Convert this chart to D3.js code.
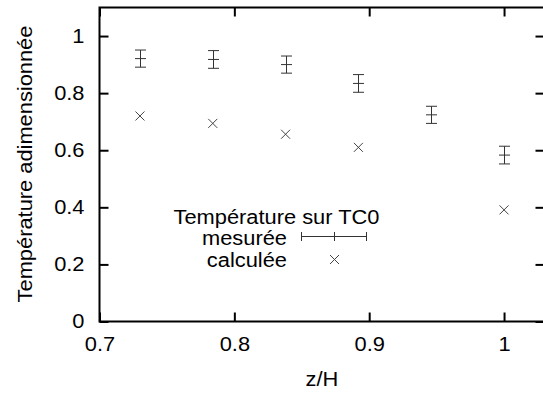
<!DOCTYPE html>
<html><head><meta charset="utf-8">
<script src="https://cdn.jsdelivr.net/npm/d3@7"></script>
<style>body{margin:0;background:#fff}svg{display:block;font-family:"Liberation Sans",Arial,sans-serif}</style>
</head><body><svg id="c" width="543" height="394"></svg>
<script>
const zMeasured = [0.73, 0.784, 0.838, 0.892, 0.946, 1.0];
const measured = [0.921, 0.918, 0.900, 0.834, 0.724, 0.583];
const measuredErr = [0.030, 0.031, 0.030, 0.031, 0.030, 0.031];
const zCalc = [0.73, 0.784, 0.838, 0.892, 1.0];
const calculated = [0.720, 0.694, 0.656, 0.610, 0.391];
const xTicks = [0.7, 0.8, 0.9, 1];
const yTicks = [0, 0.2, 0.4, 0.6, 0.8, 1];
const xLabel = "z/H", yLabel = "Température adimensionnée";
const legendTitle = "Température sur TC0", legendMeasured = "mesurée", legendCalc = "calculée";

const FS = 19.5, STRETCH = 1.12;
const svg = d3.select("#c");
const L = 99.5, R = 544.5, T = 7.5, B = 321.5;
const x = d3.scaleLinear().domain([0.7, 1.03]).range([L, R]);
const y = d3.scaleLinear().domain([0, 1.1]).range([B, T]);
const fmt = d => d === 1 ? "1" : d === 0 ? "0" : d3.format(".1f")(d);

function style(g){ g.select(".domain").remove(); g.selectAll("line").attr("stroke","#000").attr("stroke-width",2); g.selectAll("text").attr("font-size",FS).attr("fill","#000").attr("font-family","Liberation Sans, Arial, sans-serif"); }
svg.append("g").attr("transform",`translate(0,${B})`).call(d3.axisBottom(x).tickValues(xTicks).tickFormat(fmt).tickSizeInner(-9).tickSizeOuter(0).tickPadding(15.5)).call(style);
svg.append("g").attr("transform",`translate(0,${T})`).call(d3.axisTop(x).tickValues(xTicks).tickFormat("").tickSizeInner(-9).tickSizeOuter(0)).call(style);
svg.append("g").attr("transform",`translate(${L},0)`).call(d3.axisLeft(y).tickValues(yTicks).tickFormat(fmt).tickSizeInner(-9).tickSizeOuter(0).tickPadding(15)).call(style);
svg.append("g").attr("transform",`translate(${R},0)`).call(d3.axisRight(y).tickValues(yTicks).tickFormat("").tickSizeInner(-9).tickSizeOuter(0)).call(style);
svg.append("rect").attr("x",L).attr("y",T).attr("width",R-L).attr("height",B-T).attr("fill","none").attr("stroke","#000").attr("stroke-width",2);

svg.append("text").attr("x",322).attr("y",386).attr("text-anchor","middle").attr("font-size",FS).text(xLabel);
svg.append("text").attr("transform","translate(31.5,164) rotate(-90)").attr("text-anchor","middle").attr("font-size",FS).text(yLabel);

const eb = svg.append("g").attr("stroke","#333").attr("stroke-width",1).attr("fill","none");
zMeasured.forEach((z,i)=>{
  const cx = Math.round(x(z))+0.5, y1 = y(measured[i]+measuredErr[i]), y0 = y(measured[i]-measuredErr[i]);
  eb.append("line").attr("x1",cx).attr("x2",cx).attr("y1",y1).attr("y2",y0);
  eb.append("line").attr("x1",cx-5.5).attr("x2",cx+5.5).attr("y1",y1).attr("y2",y1);
  eb.append("line").attr("x1",cx-5.5).attr("x2",cx+5.5).attr("y1",y0).attr("y2",y0);
  eb.append("line").attr("x1",cx-5.5).attr("x2",cx+5.5).attr("y1",y(measured[i])).attr("y2",y(measured[i]));
});
const cr = svg.append("g").attr("stroke","#444").attr("stroke-width",1);
function cross(cx,cy){ const s=4.5; cr.append("line").attr("x1",cx-s).attr("y1",cy-s).attr("x2",cx+s).attr("y2",cy+s); cr.append("line").attr("x1",cx-s).attr("y1",cy+s).attr("x2",cx+s).attr("y2",cy-s); }
zCalc.forEach((z,i)=>cross(x(z), y(calculated[i])));

// legend
svg.append("text").attr("x",276.5).attr("y",223.5).attr("text-anchor","middle").attr("font-size",FS).text(legendTitle);
svg.append("text").attr("x",287).attr("y",245).attr("text-anchor","end").attr("font-size",FS).text(legendMeasured);
svg.append("text").attr("x",287).attr("y",267).attr("text-anchor","end").attr("font-size",FS).text(legendCalc);
const lg = svg.append("g").attr("stroke","#333").attr("stroke-width",1);
const ly = 236.5;
lg.append("line").attr("x1",301.5).attr("x2",366.5).attr("y1",ly).attr("y2",ly);
[301.5,334.5,366.5].forEach(px=>lg.append("line").attr("x1",px).attr("x2",px).attr("y1",ly-4.5).attr("y2",ly+4.5));
cross(334.5,259.5);

// widen glyphs to match the reference's wider lettering
svg.selectAll("text").each(function(){
  const t = d3.select(this); const w = this.getComputedTextLength();
  if (w > 0) t.attr("textLength", w*STRETCH).attr("lengthAdjust","spacingAndGlyphs");
});
</script></body></html>
